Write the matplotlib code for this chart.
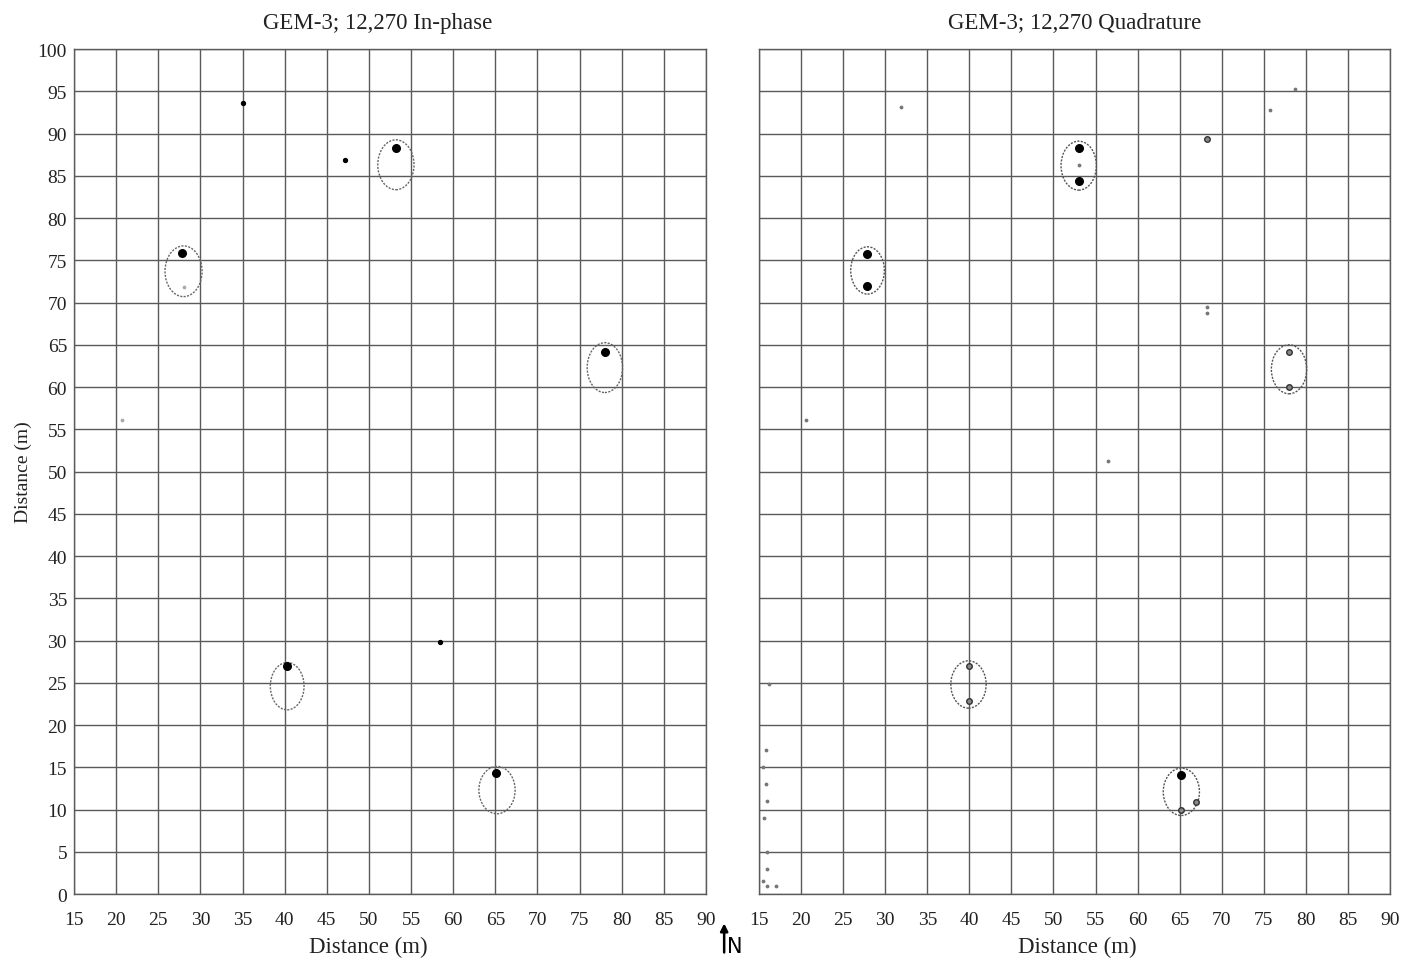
import matplotlib
matplotlib.use("Agg")
import matplotlib.pyplot as plt
from matplotlib.patches import Ellipse, FancyArrowPatch

# --- data (distances in m) ---
x_ticks = list(range(15, 95, 5))
y_ticks = list(range(0, 105, 5))

# In-phase: main anomaly hits and minor readings
inph_big_x = [27.8, 53.2, 78.0, 40.3, 65.1]
inph_big_y = [75.9, 88.3, 64.2, 27.0, 14.3]
inph_small_x = [35.0, 47.2, 58.4]
inph_small_y = [93.6, 86.9, 29.8]
inph_faint_x = [28.0, 20.7]
inph_faint_y = [71.8, 56.1]
inph_ell_x = [28.0, 53.2, 78.0, 40.3, 65.2]
inph_ell_y = [73.7, 86.3, 62.3, 24.6, 12.3]
inph_ell_w = [4.4, 4.3, 4.2, 4.0, 4.3]
inph_ell_h = [6.0, 5.9, 5.9, 5.6, 5.6]

# Quadrature
quad_big_x = [27.8, 27.8, 53.0, 53.0, 65.2]
quad_big_y = [75.8, 71.9, 88.3, 84.4, 14.1]
quad_mid_x = [40.0, 78.0, 68.3, 65.2, 67.0, 40.0, 78.0]
quad_mid_y = [27.0, 64.1, 89.3, 9.9, 10.9, 22.8, 60.0]
quad_small_x = [31.9, 78.7, 75.7, 68.2, 68.3, 56.5, 20.6, 16.2, 53.0,
                15.8, 15.5, 15.8, 15.9, 15.6, 16.0, 16.0, 15.5, 16.0, 17.0]
quad_small_y = [93.1, 95.3, 92.8, 69.5, 68.8, 51.2, 56.1, 24.9, 86.3,
                17.0, 15.0, 13.0, 11.0, 9.0, 5.0, 3.0, 1.5, 1.0, 1.0]
quad_ell_x = [27.9, 53.0, 78.0, 39.9, 65.2]
quad_ell_y = [73.8, 86.2, 62.1, 24.8, 12.1]
quad_ell_w = [4.0, 4.2, 4.2, 4.2, 4.3]
quad_ell_h = [5.6, 5.8, 5.8, 5.6, 5.6]

plt.rcParams['font.family'] = ['Liberation Serif', 'DejaVu Serif']

fig = plt.figure(figsize=(14.13, 9.62), dpi=100)
ax1 = fig.add_axes([74 / 1413, 0.0696, 632 / 1413, 0.8784])
ax2 = fig.add_axes([759 / 1413, 0.0696, 631 / 1413, 0.8784])


def setup(ax, title, show_y, tx, lx):
    ax.set_xlim(15, 90)
    ax.set_ylim(0, 100)
    ax.set_xticks(x_ticks)
    ax.set_yticks(y_ticks)
    ax.grid(True, color='#5a5a5a', lw=1.0)
    ax.set_axisbelow(True)
    for s in ax.spines.values():
        s.set_color('#5a5a5a')
        s.set_linewidth(1.0)
    ax.tick_params(length=0, labelsize=14, colors='#222222')
    ax.tick_params(axis='x', pad=12)
    ax.tick_params(axis='y', pad=5)
    if not show_y:
        ax.tick_params(axis='y', labelleft=False)
    ax.set_title(title, fontsize=16.5, pad=15, color='#222222', x=tx)
    ax.set_xlabel('Distance (m)', fontsize=16.5, labelpad=6, color='#222222')
    ax.xaxis.set_label_coords(lx, -0.05)


setup(ax1, 'GEM-3; 12,270 In-phase', True, 0.48, 0.465)
setup(ax2, 'GEM-3; 12,270 Quadrature', False, 0.5, 0.505)
ax1.set_ylabel('Distance (m)', fontsize=14, labelpad=4, color='#222222')

# in-phase marks
for cx, cy, w, h in zip(inph_ell_x, inph_ell_y, inph_ell_w, inph_ell_h):
    ax1.add_patch(Ellipse((cx, cy), w, h, fill=False, ec='#666666',
                          lw=1.0, ls=(0, (1.5, 1))))
ax1.scatter(inph_big_x, inph_big_y, s=30, c='black', zorder=3)
ax1.scatter(inph_small_x, inph_small_y, s=8, c='black', zorder=3)
ax1.scatter(inph_faint_x, inph_faint_y, s=3, c='#aaaaaa', zorder=3)

# quadrature marks
for cx, cy, w, h in zip(quad_ell_x, quad_ell_y, quad_ell_w, quad_ell_h):
    ax2.add_patch(Ellipse((cx, cy), w, h, fill=False, ec='#555555',
                          lw=1.0, ls=(0, (1.5, 1))))
ax2.scatter(quad_big_x, quad_big_y, s=30, c='black', zorder=3)
ax2.scatter(quad_mid_x, quad_mid_y, s=16, c='#888888', ec='#333333',
            lw=1.0, zorder=3)
ax2.scatter(quad_small_x, quad_small_y, s=3, c='#777777', zorder=3)

# north arrow
fig.add_artist(FancyArrowPatch((0.5125, 0.006), (0.5125, 0.042),
                               transform=fig.transFigure, arrowstyle='-|>',
                               mutation_scale=11, color='black', lw=1.8))
fig.text(0.5145, 0.005, 'N', fontsize=15, family='DejaVu Sans',
         ha='left', va='bottom')

fig.savefig('out.png', dpi=100, facecolor='white')
